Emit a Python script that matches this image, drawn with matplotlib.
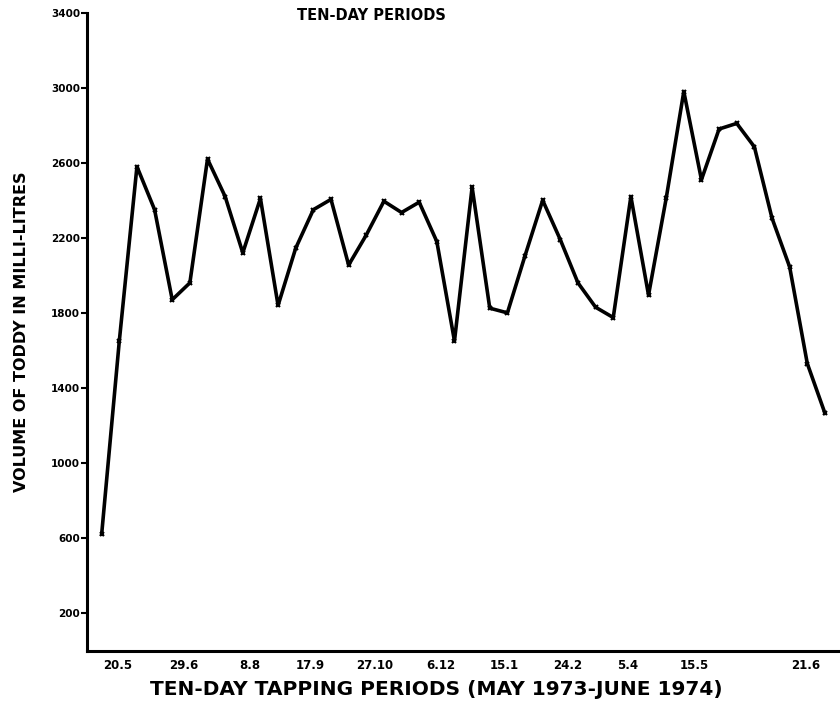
import matplotlib.pyplot as plt

# Volume de toddy por periodo de dez dias
volume = [620, 1650, 2580, 2350, 1870, 1960, 2620, 2420, 2120, 2410,
          1840, 2145, 2350, 2405, 2055, 2215, 2395, 2335, 2390, 2180,
          1650, 2470, 1825, 1800, 2105, 2400, 2190, 1960, 1830, 1775,
          2420, 1895, 2410, 2980, 2510, 2780, 2810, 2685, 2305, 2045,
          1530, 1265]
periodo = list(range(len(volume)))

rotulos_x = ['20.5', '29.6', '8.8', '17.9', '27.10', '6.12', '15.1',
             '24.2', '5.4', '15.5', '21.6']
pos_x = [0.92, 4.67, 8.4, 11.8, 15.5, 19.2, 22.8, 26.4, 29.8, 33.6, 39.9]
ticks_y = [200, 600, 1000, 1400, 1800, 2200, 2600, 3000, 3400]

fig = plt.figure(figsize=(8.4, 7.15), dpi=100)
ax = fig.add_axes([0.1036, 0.0902, 0.894, 0.892])

ax.plot(periodo, volume, color='black', linewidth=2.6,
        marker='x', markersize=3.5, markeredgewidth=1.5)

ax.set_xlim(-0.83, 41.74)
ax.set_ylim(0, 3400)

ax.set_yticks(ticks_y)
ax.set_yticklabels([str(v) for v in ticks_y], fontsize=7.5, fontweight='bold')
ax.set_xticks(pos_x)
ax.set_xticklabels(rotulos_x, fontsize=8.5, fontweight='bold')
ax.tick_params(axis='x', length=0, pad=6)
ax.tick_params(axis='y', length=4, width=1.5, pad=1)

for lado in ['top', 'right']:
    ax.spines[lado].set_visible(False)
for lado in ['left', 'bottom']:
    ax.spines[lado].set_linewidth(2.2)

ax.set_ylabel('VOLUME OF TODDY IN MILLI-LITRES', fontsize=11.5,
              fontweight='bold', labelpad=16)
fig.text(0.519, 0.035, 'TEN-DAY TAPPING PERIODS (MAY 1973-JUNE 1974)',
         ha='center', va='center', fontsize=14.5, fontweight='bold')
fig.text(0.442, 0.978, 'TEN-DAY PERIODS', ha='center', va='center',
         fontsize=10.5, fontweight='bold')

plt.savefig('out.png', dpi=100)
